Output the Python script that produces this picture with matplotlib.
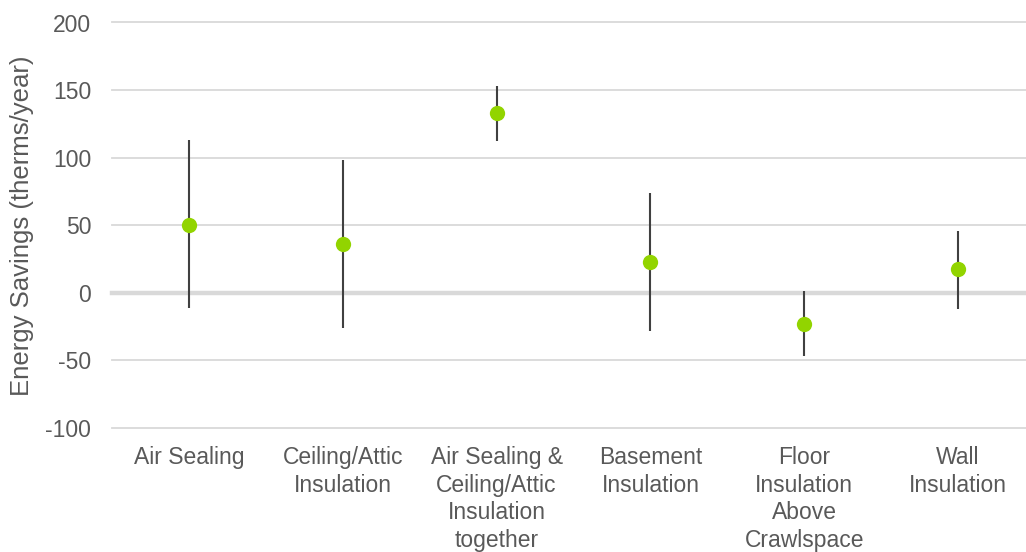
import matplotlib
matplotlib.use("Agg")
import matplotlib.pyplot as plt

categories = ["Air Sealing", "Ceiling/Attic\nInsulation", "Air Sealing &\nCeiling/Attic\nInsulation\ntogether",
              "Basement\nInsulation", "Floor\nInsulation\nAbove\nCrawlspace", "Wall\nInsulation"]
savings = [50, 36, 133, 23, -23, 18]
upper = [113, 98, 153, 74, 1, 46]
lower = [-11.5, -26, 112, -28, -47, -12]
yticks = [-100, -50, 0, 50, 100, 150, 200]

plt.rcParams['font.family'] = ['Liberation Sans', 'DejaVu Sans']
plt.rcParams['axes.unicode_minus'] = False
fig = plt.figure(figsize=(10.26, 5.52), dpi=100)
ax = fig.add_axes([112/1026, 1-428/552, (1035-112)/1026, (428-22.5)/552])

x = list(range(len(categories)))
for xi, lo, hi in zip(x, lower, upper):
    ax.plot([xi, xi], [lo, hi], color='#404040', lw=1.5, zorder=3, solid_capstyle='butt')
ax.plot(x, savings, 'o', color='#92D400', markersize=11, markeredgewidth=0, zorder=4)

ax.set_xlim(-0.5, len(categories)-0.5)
ax.set_ylim(-100, 200)
ax.set_yticks(yticks)
for t in yticks:
    ax.axhline(t, color='#D9D9D9', lw=3.2 if t == 0 else 1.3, zorder=1, clip_on=False)
ax.set_xticks(x)
ax.set_xticklabels(categories, fontsize=16.5, color='#595959', linespacing=1.25, va='top')
ax.tick_params(axis='x', length=0, labelsize=16.5, labelcolor='#595959', pad=13)
ax.tick_params(axis='y', length=0, labelsize=16.5, labelcolor='#595959', pad=15)
for s in ax.spines.values():
    s.set_visible(False)
ax.set_ylabel("Energy Savings (therms/year)", fontsize=18.5, color='#595959', labelpad=8)

fig.savefig("out.png", dpi=100)
